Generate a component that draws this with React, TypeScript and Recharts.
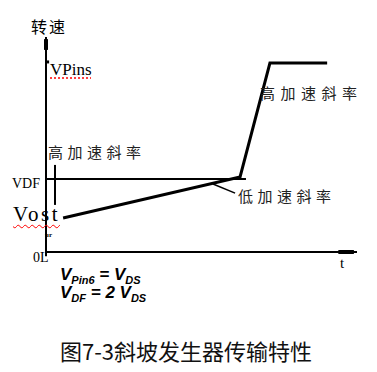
import React from 'react'
import {
  ComposedChart,
  Line,
  XAxis,
  YAxis,
  ReferenceLine,
} from 'recharts'

// ramp curve: time vs speed (arbitrary units, 0-100 on both axes)
const rampT = [5.5, 62.4, 72.0, 90.4]
const rampV = [15.8, 34.9, 87.9, 87.9]

// VDF threshold level and where it stops
const vdfLevel = 34.0
const vdfEnd = 64.3

// small vertical marker near the origin (high slope start)
const markerT = 2.9
const markerV = [21.9, 40.5]

// leader line to the low-slope label
const leaderT = [53.7, 60.8]
const leaderV = [31.6, 27.4]

const rampData = rampT.map((t, i) => ({ t, v: rampV[i] }))

const serif = '"Liberation Serif", "DejaVu Serif", serif'
const cjk = '"Noto Sans CJK SC", sans-serif'

const Txt: React.FC<{ x: number; y: number; style?: React.CSSProperties; children: React.ReactNode }> = ({
  x,
  y,
  style,
  children,
}) => (
  <div style={{ position: 'absolute', left: x, top: y, whiteSpace: 'nowrap', lineHeight: 1, ...style }}>
    {children}
  </div>
)

const sub: React.CSSProperties = { fontSize: 11, verticalAlign: -4 }

export default function App() {
  return (
    <div style={{ position: 'absolute', left: 0, top: 0, width: 377, height: 372, background: '#fff' }}>
      <ComposedChart
        width={377}
        height={372}
        data={rampData}
        margin={{ top: 37, right: 20, bottom: 120, left: 46 }}
      >
        <XAxis type="number" dataKey="t" domain={[0, 100]} hide />
        <YAxis type="number" domain={[0, 100]} hide />
        {/* axes */}
        <ReferenceLine
          segment={[{ x: 0, y: 0 }, { x: 100, y: 0 }]}
          stroke="#000"
          strokeWidth={2}
          ifOverflow="visible"
        />
        <ReferenceLine
          segment={[{ x: 0, y: -2 }, { x: 0, y: 100 }]}
          stroke="#000"
          strokeWidth={2}
          ifOverflow="visible"
        />
        {/* axis arrow heads */}
        <ReferenceLine
          segment={[{ x: 0, y: 94 }, { x: 0, y: 99 }]}
          stroke="#000"
          strokeWidth={4}
          ifOverflow="visible"
        />
        <ReferenceLine
          segment={[{ x: 94, y: 0 }, { x: 99, y: 0 }]}
          stroke="#000"
          strokeWidth={4}
          ifOverflow="visible"
        />
        {/* VPins tick */}
        <ReferenceLine
          segment={[{ x: 0, y: 88.4 }, { x: 1, y: 88.4 }]}
          stroke="#000"
          strokeWidth={3}
        />
        <ReferenceLine
          segment={[{ x: 0, y: vdfLevel }, { x: vdfEnd, y: vdfLevel }]}
          stroke="#000"
          strokeWidth={2}
        />
        <ReferenceLine
          segment={[{ x: markerT, y: markerV[0] }, { x: markerT, y: markerV[1] }]}
          stroke="#000"
          strokeWidth={2}
        />
        <ReferenceLine
          segment={[{ x: leaderT[0], y: leaderV[0] }, { x: leaderT[1], y: leaderV[1] }]}
          stroke="#000"
          strokeWidth={1.5}
        />
        <Line
          type="linear"
          dataKey="v"
          stroke="#000"
          strokeWidth={3}
          dot={false}
          isAnimationActive={false}
        />
      </ComposedChart>

      <Txt x={31} y={18} style={{ fontFamily: cjk, fontSize: 16, letterSpacing: 2 }}>转速</Txt>
      <Txt
        x={50}
        y={61}
        style={{
          fontFamily: serif,
          fontSize: 17,
          textDecoration: 'underline dotted red',
          textUnderlineOffset: 3,
        }}
      >
        VPins
      </Txt>
      <Txt x={260} y={85} style={{ fontFamily: cjk, fontSize: 15, letterSpacing: 5.5, color: '#222' }}>
        高加速斜率
      </Txt>
      <Txt x={48} y={144} style={{ fontFamily: cjk, fontSize: 15, letterSpacing: 4.5, color: '#222' }}>
        高加速斜率
      </Txt>
      <Txt x={12} y={177} style={{ fontFamily: serif, fontSize: 14 }}>VDF</Txt>
      <Txt
        x={13}
        y={204}
        style={{
          fontFamily: serif,
          fontSize: 21,
          letterSpacing: 2.5,
          textDecoration: 'underline wavy red',
          textDecorationThickness: 1,
          textUnderlineOffset: 3,
        }}
      >
        Vost
      </Txt>
      <Txt x={238} y={188} style={{ fontFamily: cjk, fontSize: 15, letterSpacing: 4.5, color: '#222' }}>
        低加速斜率
      </Txt>
      <Txt x={33} y={251} style={{ fontFamily: serif, fontSize: 14 }}>0L</Txt>
      <Txt x={45} y={232} style={{ fontFamily: serif, fontSize: 7, fontWeight: 700 }}>ur</Txt>
      <Txt x={340} y={256} style={{ fontFamily: serif, fontSize: 15 }}>t</Txt>

      <Txt
        x={60}
        y={266}
        style={{ fontFamily: '"Liberation Sans", Arial, sans-serif', fontSize: 17, fontWeight: 700, fontStyle: 'italic' }}
      >
        V<span style={sub}>Pin6</span> = V<span style={sub}>DS</span>
      </Txt>
      <Txt
        x={60}
        y={284}
        style={{ fontFamily: '"Liberation Sans", Arial, sans-serif', fontSize: 17, fontWeight: 700, fontStyle: 'italic' }}
      >
        V<span style={sub}>DF</span> = 2 V<span style={sub}>DS</span>
      </Txt>

      <Txt x={60} y={339} style={{ fontFamily: cjk, fontSize: 22, color: '#111' }}>
        图7-3斜坡发生器传输特性
      </Txt>
    </div>
  )
}
